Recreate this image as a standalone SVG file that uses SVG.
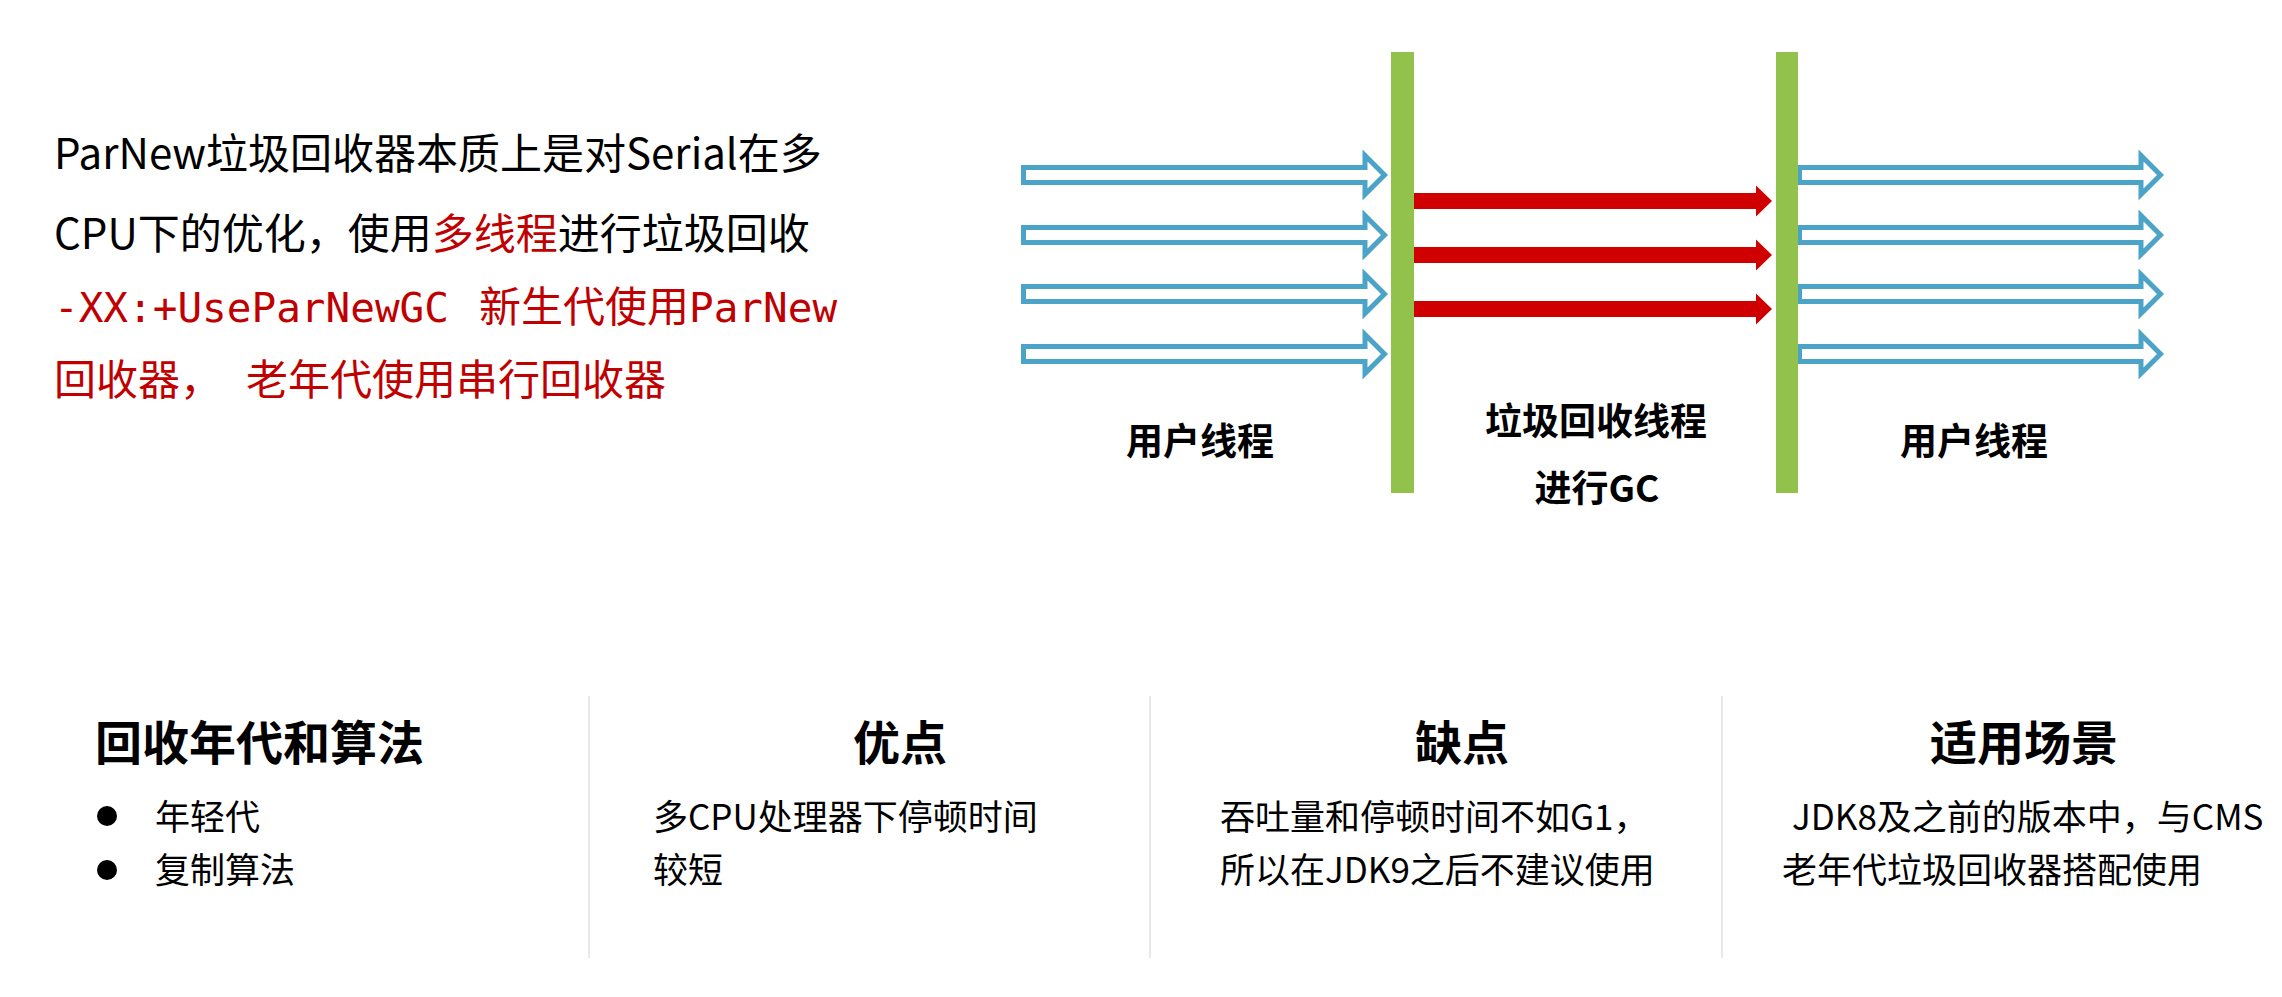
<svg xmlns="http://www.w3.org/2000/svg" width="2282" height="997" viewBox="0 0 2282 997">
<defs>
<style>
text { font-family: "Noto Sans CJK SC", "Liberation Sans", sans-serif; fill:#000; }
.body { font-size:42px; }
.red { fill:#C00000; }
.mono { font-family: "DejaVu Sans Mono", "Liberation Mono", monospace; font-size:41px; }
.lbl { font-size:37px; font-weight:700; text-anchor:middle; }
.hdr { font-size:47px; font-weight:700; }
.item { font-size:35px; }
.ua { fill:#fff; stroke:#4BA3C7; stroke-width:5; stroke-linejoin:miter; }
.ra { fill:#D00000; }
.bar { fill:#92C24C; }
.sep { stroke:#E2E2E2; stroke-width:1.5; }
</style>
<path id="userArrow" class="ua" d="M2.5,-7.5 H344 V-19.5 L363.5,0 L344,19.5 V7.5 H2.5 Z"/>
<path id="gcArrow" class="ra" d="M0,-8 H345 V-15.5 L361,0 L345,15.5 V8 H0 Z"/>
</defs>
<rect width="2282" height="997" fill="#fff"/>

<g id="intro">
<text class="body" x="54" y="169">ParNew垃圾回收器本质上是对Serial在多</text>
<text class="body" x="54" y="249">CPU下的优化，使用<tspan class="red">多线程</tspan>进行垃圾回收</text>
<text class="body red" y="322"><tspan class="mono red" x="54">-XX:+UseParNewGC</tspan><tspan x="479">新生代使用</tspan><tspan class="mono red" x="689">ParNew</tspan></text>
<text class="body red" y="395"><tspan x="54">回收器，</tspan><tspan x="246">老年代使用串行回收器</tspan></text>
</g>

<g id="connectors">
<use href="#userArrow" transform="translate(1021,175)"/>
<use href="#userArrow" transform="translate(1021,235)"/>
<use href="#userArrow" transform="translate(1021,294)"/>
<use href="#userArrow" transform="translate(1021,354)"/>
<use href="#gcArrow" transform="translate(1411,201)"/>
<use href="#gcArrow" transform="translate(1411,255)"/>
<use href="#gcArrow" transform="translate(1411,309)"/>
<use href="#userArrow" transform="translate(1797,175)"/>
<use href="#userArrow" transform="translate(1797,235)"/>
<use href="#userArrow" transform="translate(1797,294)"/>
<use href="#userArrow" transform="translate(1797,354)"/>
</g>

<g id="bar1"><rect class="bar" x="1391" y="52" width="23" height="441"/></g>
<g id="bar2"><rect class="bar" x="1776" y="52" width="22" height="441"/></g>

<g id="label-user-left"><text class="lbl" x="1200" y="455">用户线程</text></g>
<g id="label-gc"><text class="lbl" x="1596" y="435">垃圾回收线程</text><text class="lbl" x="1597" y="502">进行GC</text></g>
<g id="label-user-right"><text class="lbl" x="1974" y="455">用户线程</text></g>

<g id="separators">
<line class="sep" x1="589" y1="696" x2="589" y2="958"/>
<line class="sep" x1="1150" y1="696" x2="1150" y2="958"/>
<line class="sep" x1="1722" y1="696" x2="1722" y2="958"/>
</g>

<g id="col-generation">
<text class="hdr" x="95" y="760">回收年代和算法</text>
<circle cx="107" cy="816" r="10" fill="#000"/>
<circle cx="107" cy="870" r="10" fill="#000"/>
<text class="item" x="155" y="830">年轻代</text>
<text class="item" x="155" y="883">复制算法</text>
</g>

<g id="col-pros">
<text class="hdr" x="900" y="760" text-anchor="middle">优点</text>
<text class="item" x="653" y="830">多CPU处理器下停顿时间</text>
<text class="item" x="653" y="883">较短</text>
</g>

<g id="col-cons">
<text class="hdr" x="1462" y="760" text-anchor="middle">缺点</text>
<text class="item" x="1220" y="830">吞吐量和停顿时间不如G1，</text>
<text class="item" x="1220" y="883">所以在JDK9之后不建议使用</text>
</g>

<g id="col-usage">
<text class="hdr" x="2024" y="760" text-anchor="middle">适用场景</text>
<text class="item" x="1792" y="830">JDK8及之前的版本中，与CMS</text>
<text class="item" x="1782" y="883">老年代垃圾回收器搭配使用</text>
</g>
</svg>
